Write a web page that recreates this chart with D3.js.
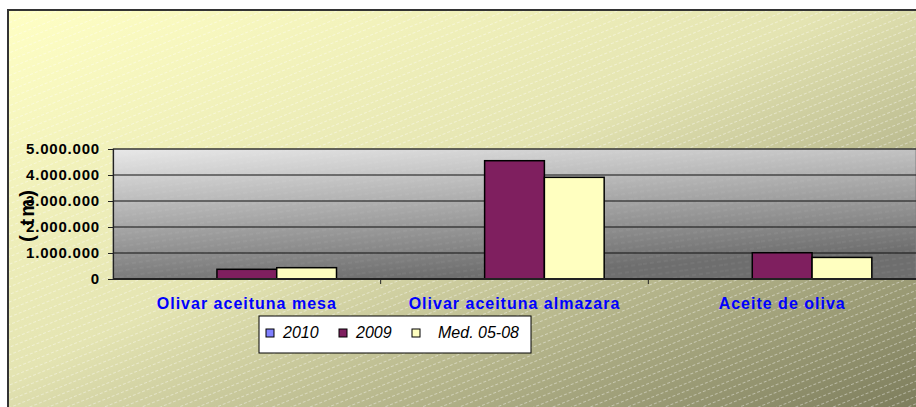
<!DOCTYPE html>
<html>
<head>
<meta charset="utf-8">
<script src="https://cdn.jsdelivr.net/npm/d3@7"></script>
<style>
  body { margin: 0; background: #fff; }
  svg { display: block; font-family: "Liberation Sans", Arial, sans-serif; }
</style>
</head>
<body>
<div id="chart"></div>
<script>
// chart data
const categories = ["Olivar aceituna mesa", "Olivar aceituna almazara", "Aceite de oliva"];
const seriesNames = ["2010", "2009", "Med. 05-08"];
const values2010 = [0, 0, 0];
const values2009 = [373000, 4550000, 1010000];
const valuesMed = [435000, 3910000, 830000];
const yTicks = [0, 1000000, 2000000, 3000000, 4000000, 5000000];
const seriesColors = ["#8080FF", "#7F1F5F", "#FFFFC0"];

const W = 916, H = 407;
const plot = {left: 113, right: 916, top: 149, bottom: 279};

const svg = d3.select("#chart").append("svg")
    .attr("width", W).attr("height", H);

const defs = svg.append("defs");

// chart area background gradient + stripes
const bg = defs.append("linearGradient").attr("id", "bgGrad")
    .attr("x1", 0).attr("y1", 0).attr("x2", 1).attr("y2", 1);
bg.append("stop").attr("offset", 0).attr("stop-color", "#FFFFC4");
bg.append("stop").attr("offset", 0.45).attr("stop-color", "#E4E4B2");
bg.append("stop").attr("offset", 1).attr("stop-color", "#7A7A5A");

const stripes = defs.append("pattern").attr("id", "stripes")
    .attr("patternUnits", "userSpaceOnUse")
    .attr("width", 40).attr("height", 7)
    .attr("patternTransform", "rotate(-22)");
stripes.append("line")
    .attr("x1", 0).attr("x2", 40).attr("y1", 3.5).attr("y2", 3.5)
    .attr("stroke", "#fff").attr("stroke-opacity", 0.5)
    .attr("stroke-width", 0.8).attr("stroke-dasharray", "3,2");

const pg = defs.append("linearGradient").attr("id", "plotGrad")
    .attr("x1", 0).attr("y1", 0).attr("x2", 0.35).attr("y2", 1);
pg.append("stop").attr("offset", 0).attr("stop-color", "#E8E8E8");
pg.append("stop").attr("offset", 1).attr("stop-color", "#6E6E6E");

const pstripes = defs.append("pattern").attr("id", "pstripes")
    .attr("patternUnits", "userSpaceOnUse")
    .attr("width", 40).attr("height", 6)
    .attr("patternTransform", "rotate(-8)");
pstripes.append("line")
    .attr("x1", 0).attr("x2", 40).attr("y1", 3).attr("y2", 3)
    .attr("stroke", "#fff").attr("stroke-opacity", 0.12)
    .attr("stroke-width", 0.8).attr("stroke-dasharray", "4,3");

// outer frame
svg.append("rect").attr("x", 8).attr("y", 10).attr("width", W).attr("height", H)
    .attr("fill", "url(#bgGrad)");
svg.append("rect").attr("x", 8).attr("y", 10).attr("width", W).attr("height", H)
    .attr("fill", "url(#stripes)");
svg.append("rect").attr("x", 8).attr("y", 10).attr("width", W).attr("height", H)
    .attr("fill", "none").attr("stroke", "#333").attr("stroke-width", 2);

// plot area
svg.append("rect").attr("x", plot.left).attr("y", plot.top)
    .attr("width", plot.right - plot.left).attr("height", plot.bottom - plot.top)
    .attr("fill", "url(#plotGrad)");
svg.append("rect").attr("x", plot.left).attr("y", plot.top)
    .attr("width", plot.right - plot.left).attr("height", plot.bottom - plot.top)
    .attr("fill", "url(#pstripes)").attr("stroke", "#808080");

// scales
const x = d3.scaleBand().domain(categories)
    .range([plot.left, plot.right]).paddingInner(0.33).paddingOuter(0.165);
const xInner = d3.scaleBand().domain(seriesNames).range([0, x.bandwidth()]);
const y = d3.scaleLinear().domain([0, 5000000]).range([plot.bottom, plot.top]);

const fmt = d3.formatLocale({decimal: ",", thousands: ".", grouping: [3], currency: ["", ""]}).format(",");

// gridlines
svg.append("g").selectAll("line")
    .data(yTicks.filter(d => d > 0))
    .enter().append("line")
    .attr("x1", plot.left).attr("x2", plot.right)
    .attr("y1", d => y(d)).attr("y2", d => y(d))
    .attr("stroke", "#111").attr("stroke-width", 1.2);

// bars
const seriesData = [values2010, values2009, valuesMed];
const barG = svg.append("g");
seriesNames.forEach((s, si) => {
    barG.selectAll(".bar" + si)
        .data(categories.map((c, i) => ({cat: c, v: seriesData[si][i]})).filter(d => d.v > 0))
        .enter().append("rect")
        .attr("x", d => x(d.cat) + xInner(s))
        .attr("y", d => y(d.v))
        .attr("width", xInner.bandwidth())
        .attr("height", d => y(0) - y(d.v))
        .attr("fill", seriesColors[si])
        .attr("stroke", "#000").attr("stroke-width", 1.5);
});

// y axis
const yAxis = svg.append("g")
    .attr("transform", `translate(${plot.left},0)`)
    .call(d3.axisLeft(y).tickValues(yTicks).tickSize(5).tickFormat(fmt));
yAxis.select(".domain").attr("stroke", "#222").attr("stroke-width", 1.2);
yAxis.selectAll(".tick line").attr("stroke", "#222");
yAxis.selectAll("text")
    .attr("x", -13)
    .attr("fill", "#000")
    .style("font-family", "'Liberation Sans', Arial, sans-serif")
    .style("font-size", "15px").style("font-weight", "bold")
    .style("letter-spacing", "0.8px");

// x axis
const xAxis = svg.append("g")
    .attr("transform", `translate(0,${plot.bottom})`);
xAxis.append("line").attr("x1", plot.left).attr("x2", plot.right)
    .attr("stroke", "#222").attr("stroke-width", 2);
xAxis.selectAll(".xt")
    .data(categories.slice(1))
    .enter().append("line")
    .attr("x1", d => x(d) - x.step() * x.paddingInner() / 2)
    .attr("x2", d => x(d) - x.step() * x.paddingInner() / 2)
    .attr("y1", 0).attr("y2", 5).attr("stroke", "#222");
xAxis.selectAll(".xl")
    .data(categories)
    .enter().append("text")
    .attr("x", d => x(d) + x.bandwidth() / 2)
    .attr("y", 30)
    .attr("text-anchor", "middle")
    .attr("fill", "#0000FF")
    .style("font-size", "16px").style("font-weight", "bold")
    .style("letter-spacing", "1px")
    .text(d => d);

// y axis title
svg.append("text")
    .attr("transform", "translate(34,216) rotate(-90)")
    .attr("text-anchor", "middle")
    .attr("textLength", 52).attr("lengthAdjust", "spacing")
    .style("font-size", "20px").style("font-weight", "bold")
    .text("( tm)");

// legend
const legend = svg.append("g").attr("transform", "translate(259,316)");
legend.append("rect").attr("width", 272).attr("height", 37)
    .attr("fill", "#fff").attr("stroke", "#000");
const legendX = [7, 80, 153];
const legendTextX = [24, 97, 179];
seriesNames.forEach((s, i) => {
    legend.append("rect")
        .attr("x", legendX[i]).attr("y", 13).attr("width", 8).attr("height", 8)
        .attr("fill", seriesColors[i]).attr("stroke", "#000");
    legend.append("text")
        .attr("x", legendTextX[i]).attr("y", 22)
        .style("font-size", "16px").style("font-style", "italic")
        .text(s);
});
</script>
</body>
</html>
